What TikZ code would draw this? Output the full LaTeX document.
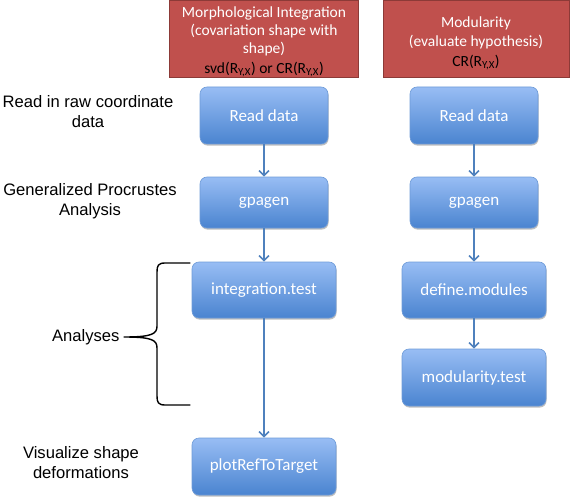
\documentclass[tikz,border=0pt]{standalone}
\usepackage{fontspec}
\setmainfont{Liberation Sans}
\newfontfamily\boxfont{Carlito}
\usetikzlibrary{arrows.meta,shadows}
\definecolor{bluetop}{HTML}{98BDF4}
\definecolor{bluebot}{HTML}{4A84D0}
\definecolor{blueedge}{HTML}{6E9BD8}
\definecolor{arrowblue}{HTML}{4F81BD}
\definecolor{redfill}{HTML}{C0504D}
\definecolor{rededge}{HTML}{8C3A37}
\tikzset{
  stepbox/.style={rectangle, rounded corners=7pt, draw=blueedge, line width=0.6pt,
    top color=bluetop, bottom color=bluebot, text=white,
    font=\boxfont\fontsize{17}{20}\selectfont, inner sep=2pt,
    drop shadow={shadow xshift=0.6pt, shadow yshift=-1.6pt, opacity=0.25, fill=black}},
  headbox/.style={rectangle, draw=rededge, line width=0.8pt, fill=redfill, text=white,
    font=\boxfont\fontsize{15.5}{18}\selectfont, align=center, inner sep=2pt},
  sidelabel/.style={font=\fontsize{16.6}{20}\selectfont, align=center, text=black},
  flow/.style={draw=arrowblue, line width=2pt, -{Straight Barb[length=5pt,width=10pt,line width=1.6pt]}},
  bracestyle/.style={draw=black, line width=1.4pt}
}
\begin{document}
\begin{tikzpicture}[x=1pt, y=-1pt]
\useasboundingbox (0,0) rectangle (573,500);
% header boxes
\node[headbox, minimum width=189, minimum height=77] (h1) at (264,38.5) {};
\node[headbox, draw=none, fill=none] (h1t) at (264,42)
  {Morphological Integration\\(covariation shape with\\shape)\\[2pt]\textcolor{black}{svd(R\textsubscript{Y,X}) or CR(R\textsubscript{Y,X})}};
\node[headbox, minimum width=186, minimum height=77] (h2) at (476,38.5) {};
\node[headbox, draw=none, fill=none] (h2t) at (476,43.5)
  {Modularity\\[1pt](evaluate hypothesis)\\[2pt]\textcolor{black}{CR(R\textsubscript{Y,X})}};
% left column
\node[stepbox, minimum width=128, minimum height=57] (rd1) at (264,115.5) {Read data};
\node[stepbox, minimum width=128, minimum height=51] (gp1) at (264,202.5) {gpagen};
\node[stepbox, minimum width=144, minimum height=56] (it1) at (264,290) {integration.test};
\node[stepbox, minimum width=144, minimum height=57] (pr1) at (264,466.5) {plotRefToTarget};
% right column
\node[stepbox, minimum width=128, minimum height=57] (rd2) at (474,115.5) {Read data};
\node[stepbox, minimum width=128, minimum height=51] (gp2) at (474,202.5) {gpagen};
\node[stepbox, minimum width=144, minimum height=56] (dm2) at (474,290) {define.modules};
\node[stepbox, minimum width=144, minimum height=57] (mt2) at (474,377.5) {modularity.test};
% arrows
\draw[flow] (rd1) -- (gp1);
\draw[flow] (gp1) -- (it1);
\draw[flow] (it1) -- (pr1);
\draw[flow] (rd2) -- (gp2);
\draw[flow] (gp2) -- (dm2);
\draw[flow] (dm2) -- (mt2);
% side labels
\node[sidelabel] (l1) at (88,112) {Read in raw coordinate\\data};
\node[sidelabel] (l2) at (90,201.5) {Generalized Procrustes\\Analysis};
\node[sidelabel, anchor=east] (l3) at (123,337) {Analyses};
\node[sidelabel] (l4) at (81,462.5) {Visualize shape\\deformations};
% brace
\coordinate (bt) at (190,263);
\coordinate (bb) at (190,405);
\coordinate (btip) at (124,337);
\draw[bracestyle, line cap=round, line join=round]
  (bt) -- (165,263) .. controls (158,263) and (157,266) .. (157,272)
  -- (157,326) .. controls (157,334) and (152,337) .. (btip)
  .. controls (152,337) and (157,340) .. (157,348)
  -- (157,396) .. controls (157,402) and (158,405) .. (165,405) -- (bb);
\end{tikzpicture}
\end{document}
